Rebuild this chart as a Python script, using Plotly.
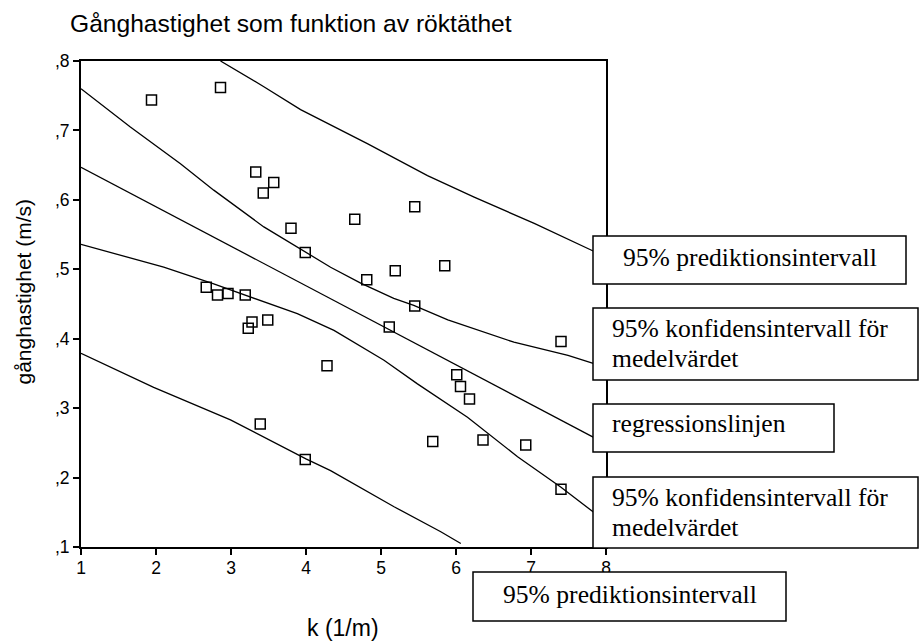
import plotly.graph_objects as go

# ---------------- data ----------------
k_obs = [1.94, 2.86, 3.33, 3.57, 3.43, 3.80, 3.99, 2.67, 2.82, 2.96, 3.19, 3.28, 3.23,
         3.49, 3.39, 3.99, 4.28, 4.65, 5.45, 4.81, 5.19, 5.85, 5.45, 5.11, 7.40, 6.01,
         6.06, 6.18, 5.69, 6.36, 6.93, 7.40]
v_obs = [0.744, 0.762, 0.640, 0.625, 0.610, 0.559, 0.524, 0.474, 0.463, 0.465, 0.463,
         0.424, 0.415, 0.427, 0.277, 0.226, 0.361, 0.572, 0.590, 0.485, 0.498, 0.505,
         0.447, 0.417, 0.396, 0.348, 0.331, 0.313, 0.252, 0.254, 0.247, 0.183]

reg_x = [1.0, 4.0, 7.835]
reg_y = [0.647, 0.476, 0.258]

ci_up_x = [1.00, 1.658, 2.326, 2.770, 3.438, 4.328, 4.729, 5.170, 5.437, 5.891, 6.772, 7.493, 7.840]
ci_up_y = [0.760, 0.705, 0.652, 0.614, 0.561, 0.503, 0.480, 0.458, 0.448, 0.427, 0.395, 0.376, 0.364]

ci_lo_x = [1.00, 1.435, 2.103, 2.770, 3.438, 3.884, 4.373, 5.040, 5.486, 6.153, 6.821, 7.400, 7.836]
ci_lo_y = [0.536, 0.523, 0.503, 0.479, 0.453, 0.436, 0.412, 0.369, 0.335, 0.287, 0.230, 0.186, 0.150]

pi_up_x = [2.86, 3.438, 3.928, 4.818, 5.620, 6.242, 7.043, 7.836]
pi_up_y = [0.800, 0.763, 0.730, 0.681, 0.635, 0.604, 0.566, 0.526]

pi_lo_x = [1.00, 1.969, 2.993, 3.999, 4.328, 5.174, 5.797, 6.064]
pi_lo_y = [0.379, 0.330, 0.283, 0.227, 0.210, 0.158, 0.122, 0.105]

x_tick_vals = [1, 2, 3, 4, 5, 6, 7, 8]
x_tick_text = ["1", "2", "3", "4", "5", "6", "7", "8"]
y_tick_vals = [0.1, 0.2, 0.3, 0.4, 0.5, 0.6, 0.7, 0.8]
y_tick_text = [",1", ",2", ",3", ",4", ",5", ",6", ",7", ",8"]

title_text = "Gånghastighet som funktion av röktäthet"
x_title = "k (1/m)"
y_title = "gånghastighet (m/s)"
label_pred = "95% prediktionsintervall"
label_conf_1 = "95% konfidensintervall för"
label_conf_2 = "medelvärdet"
label_reg = "regressionslinjen"

# ---------------- layout helpers ----------------
FIG_W, FIG_H = 919, 641
L, R, T, B = 81, 606, 61, 547
PW, PH = R - L, B - T


def fx(px):
    return (px - L) / PW


def fy(py):
    return (B - py) / PH


SERIF = "Liberation Serif, Times New Roman, serif"
SANS = "Liberation Sans, Arial, sans-serif"

fig = go.Figure()

line_style = dict(color="black", width=1.3)
for xs, ys in [(pi_up_x, pi_up_y), (ci_up_x, ci_up_y), (reg_x, reg_y),
               (ci_lo_x, ci_lo_y), (pi_lo_x, pi_lo_y)]:
    fig.add_trace(go.Scatter(x=xs, y=ys, mode="lines", line=line_style,
                             showlegend=False, hoverinfo="skip"))

fig.add_trace(go.Scatter(
    x=k_obs, y=v_obs, mode="markers", showlegend=False,
    marker=dict(symbol="square-open", size=10, color="black", line=dict(width=1.5, color="black")),
))

# label boxes (pixel coordinates)
boxes = [(593, 236, 906, 284), (593, 308, 918, 380), (593, 404, 834, 452),
         (593, 477, 918, 548), (473, 572, 786, 621)]
shapes = []
for x0, y0, x1, y1 in boxes:
    shapes.append(dict(type="rect", xref="paper", yref="paper",
                       x0=fx(x0), x1=fx(x1), y0=fy(y1), y1=fy(y0),
                       line=dict(color="black", width=1.5), fillcolor="white",
                       layer="above"))

texts = [
    (label_pred, 749.5, 257, "center"),
    (label_conf_1, 611, 328, "left"),
    (label_conf_2, 611, 358, "left"),
    (label_reg, 611, 423, "left"),
    (label_conf_1, 611, 497, "left"),
    (label_conf_2, 611, 527, "left"),
    (label_pred, 629.5, 594, "center"),
]
annotations = []
for t, px, py, anc in texts:
    annotations.append(dict(text=t, xref="paper", yref="paper", x=fx(px), y=fy(py),
                            xanchor=anc, yanchor="middle", showarrow=False, borderpad=0,
                            font=dict(family=SERIF, size=25.6, color="black")))

annotations.append(dict(text=title_text, xref="paper", yref="paper", x=fx(291), y=fy(23),
                        xanchor="center", yanchor="middle", showarrow=False,
                        font=dict(family=SANS, size=24.6, color="black")))
annotations.append(dict(text=x_title, xref="paper", yref="paper", x=fx(342.5), y=fy(628),
                        xanchor="center", yanchor="middle", showarrow=False,
                        font=dict(family=SANS, size=23, color="black")))
annotations.append(dict(text=y_title, xref="paper", yref="paper", x=fx(22.5), y=fy(292),
                        xanchor="center", yanchor="middle", showarrow=False, textangle=-90,
                        font=dict(family=SANS, size=21, color="black")))

axis_common = dict(showgrid=False, zeroline=False, showline=True, mirror=True,
                   linecolor="black", linewidth=2, ticks="outside", ticklen=6,
                   tickwidth=1.5, tickcolor="black",
                   tickfont=dict(family=SANS, size=17.5, color="black"))

fig.update_layout(
    width=FIG_W, height=FIG_H,
    margin=dict(l=L, r=FIG_W - R, t=T, b=FIG_H - B, pad=0),
    paper_bgcolor="white", plot_bgcolor="white",
    xaxis=dict(range=[1, 8], tickvals=x_tick_vals, ticktext=x_tick_text,
               ticklabelstandoff=-2, **axis_common),
    yaxis=dict(range=[0.1, 0.8], tickvals=y_tick_vals, ticktext=y_tick_text, **axis_common),
    shapes=shapes, annotations=annotations,
)

fig.write_html("out.html", config={"displayModeBar": False},
               post_script="document.body.style.margin='0';document.body.style.overflow='hidden';")
